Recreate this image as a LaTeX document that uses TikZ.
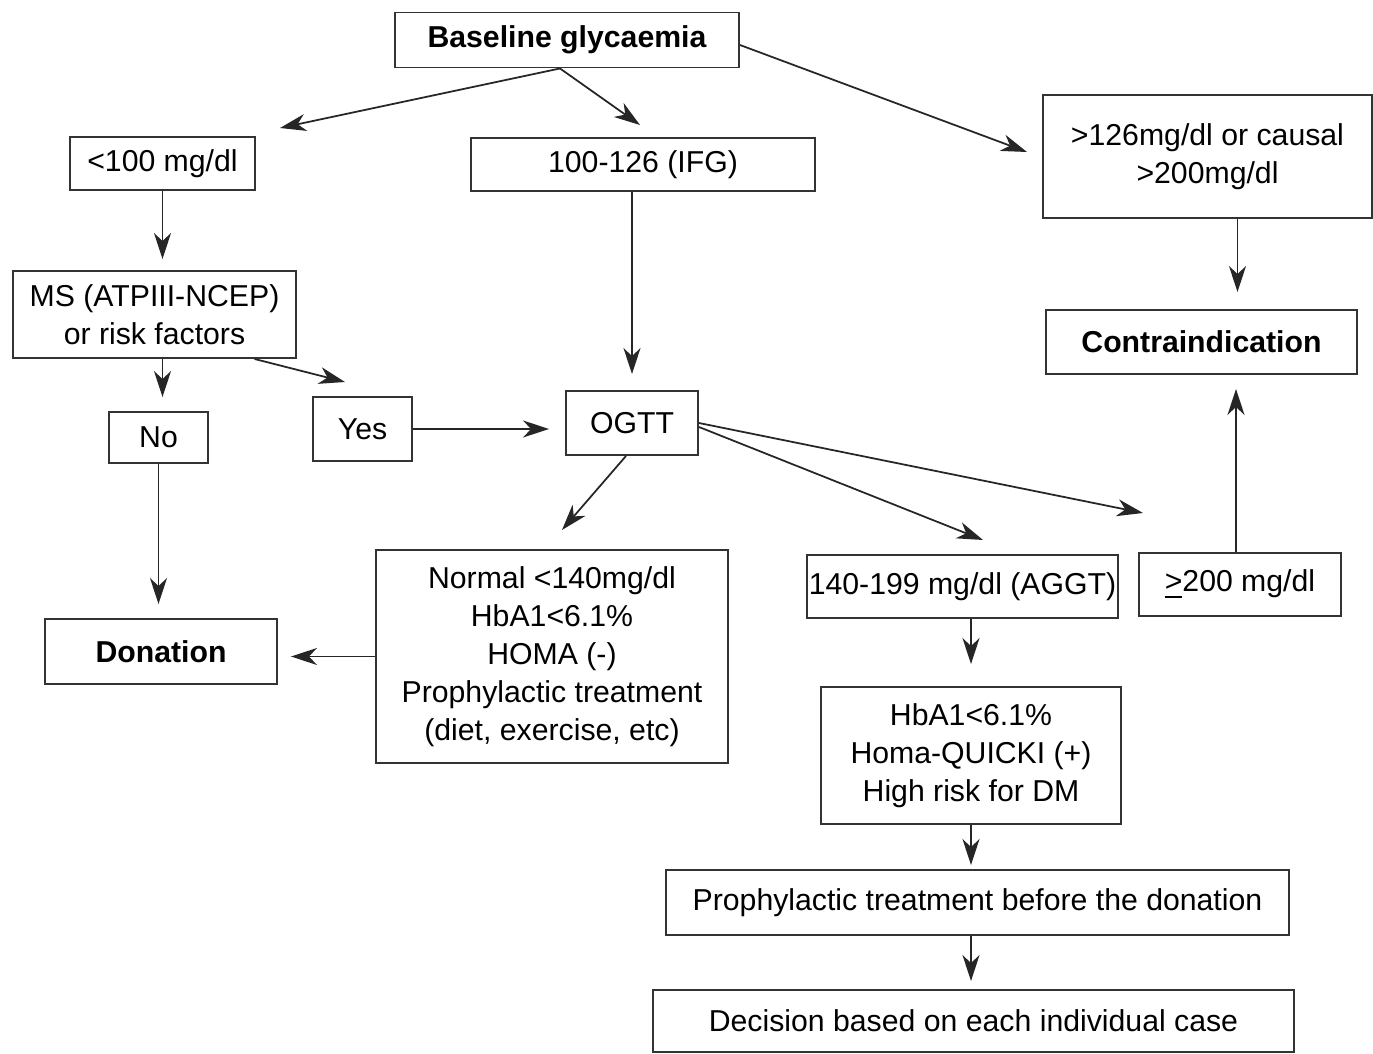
\documentclass[tikz,border=0pt]{standalone}
\usepackage{fontspec}
\setmainfont{Liberation Sans}
\usetikzlibrary{arrows.meta}
\tikzset{
	box/.style={draw=black!80, line width=0.55pt, inner sep=0pt, align=center, font=\fontsize{8.6}{10.8}\selectfont},
	boldbox/.style={box, font=\fontsize{8.6}{10.8}\selectfont\bfseries},
	arr/.style={-{Stealth[length=2.6mm,width=1.7mm,inset=0.8mm]}, line width=0.5pt, black!85},
}
\begin{document}
\begin{tikzpicture}
	\useasboundingbox (0,0) rectangle (13.73,-10.54);

	\node[boldbox, minimum width=3.44cm, minimum height=0.55cm] (1) at (5.67,-0.40) {Baseline glycaemia};
	\node[box, minimum width=1.85cm, minimum height=0.53cm] (2) at (1.625,-1.635) {<100 mg/dl};
	\node[box, minimum width=3.44cm, minimum height=0.53cm] (3) at (6.43,-1.645) {100-126 (IFG)};
	\node[box, minimum width=3.29cm, minimum height=1.23cm] (4) at (12.075,-1.565) {>126mg/dl or causal\\>200mg/dl};
	\node[boldbox, minimum width=3.11cm, minimum height=0.64cm] (5) at (12.015,-3.42) {Contraindication};

	\node[box, minimum width=2.83cm, minimum height=0.87cm] (6) at (1.545,-3.145) {MS (ATPIII-NCEP)\\or risk factors};
	\node[box, minimum width=0.99cm, minimum height=0.51cm] (7) at (1.585,-4.375) {No};
	\node[box, minimum width=0.99cm, minimum height=0.64cm] (8) at (3.625,-4.29) {Yes};
	\node[box, minimum width=1.32cm, minimum height=0.64cm] (9) at (6.32,-4.23) {OGTT};
	\node[boldbox, minimum width=2.32cm, minimum height=0.65cm] (10) at (1.61,-6.515) {Donation};

	\node[box, minimum width=3.52cm, minimum height=2.13cm] (11) at (5.52,-6.565) {Normal <140mg/dl\\HbA1<6.1\%\\HOMA (-)\\Prophylactic treatment\\(diet, exercise, etc)};
	\node[box, minimum width=3.11cm, minimum height=0.63cm] (12) at (9.625,-5.865) {140-199 mg/dl (AGGT)};
	\node[box, minimum width=2.02cm, minimum height=0.63cm] (13) at (12.40,-5.845) {\underline{>}200 mg/dl};
	\node[box, minimum width=3.00cm, minimum height=1.37cm] (14) at (9.71,-7.555) {HbA1<6.1\%\\Homa-QUICKI (+)\\High risk for DM};
	\node[box, minimum width=6.23cm, minimum height=0.65cm] (15) at (9.775,-9.025) {Prophylactic treatment before the donation};
	\node[box, minimum width=6.41cm, minimum height=0.62cm] (16) at (9.735,-10.21) {Decision based on each individual case};

	% free arrow ends
	\coordinate (t1) at (2.80,-1.28);
	\coordinate (t2) at (6.40,-1.25);
	\coordinate (t3) at (10.27,-1.52);
	\coordinate (t4) at (3.45,-3.82);
	\coordinate (t5) at (5.62,-5.30);
	\coordinate (t6) at (9.83,-5.40);
	\coordinate (t7) at (11.43,-5.13);

	\path [arr] ([xshift=-0.7mm]1.south) edge (t1);
	\path [arr] ([xshift=-0.7mm]1.south) edge (t2);
	\path [arr] ([yshift=-0.5mm]1.east) edge (t3);
	\path [arr] (2.south) edge[shorten >=1.1mm] (2.south |- 6.north);
	\path [arr] (9.north |- 3.south) edge[shorten >=1.6mm] (9.north);
	\path [arr] ([xshift=3mm]4.south) edge[shorten >=1.7mm] ([xshift=3mm]4.south |- 5.north);
	\path [arr] ([xshift=0.4mm]7.north |- 6.south) edge[shorten >=1.4mm] ([xshift=0.4mm]7.north);
	\path [arr] ([xshift=1cm]6.south) edge (t4);
	\path [arr] (8.east) edge[shorten >=1.6mm] (8.east -| 9.west);
	\path [arr] (7.south) edge[shorten >=1.4mm] (7.south |- 10.north);
	\path [arr] ([xshift=-0.6mm]9.south) edge (t5);
	\path [arr] ([yshift=-0.4mm]9.east) edge (t6);
	\path [arr] (9.east) edge (t7);
	\path [arr] ([xshift=-0.4mm]13.north) edge[shorten >=1.4mm] ([xshift=-0.4mm]13.north |- 5.south);
	\path [arr] (11.west) edge[shorten >=1.3mm] (11.west -| 10.east);
	\path [arr] (14.north |- 12.south) edge[shorten >=2.2mm] (14.north);
	\path [arr] (14.south) edge[shorten >=0.4mm] (14.south |- 15.north);
	\path [arr] (14.south |- 15.south) edge[shorten >=0.8mm] (14.south |- 16.north);
\end{tikzpicture}
\end{document}
